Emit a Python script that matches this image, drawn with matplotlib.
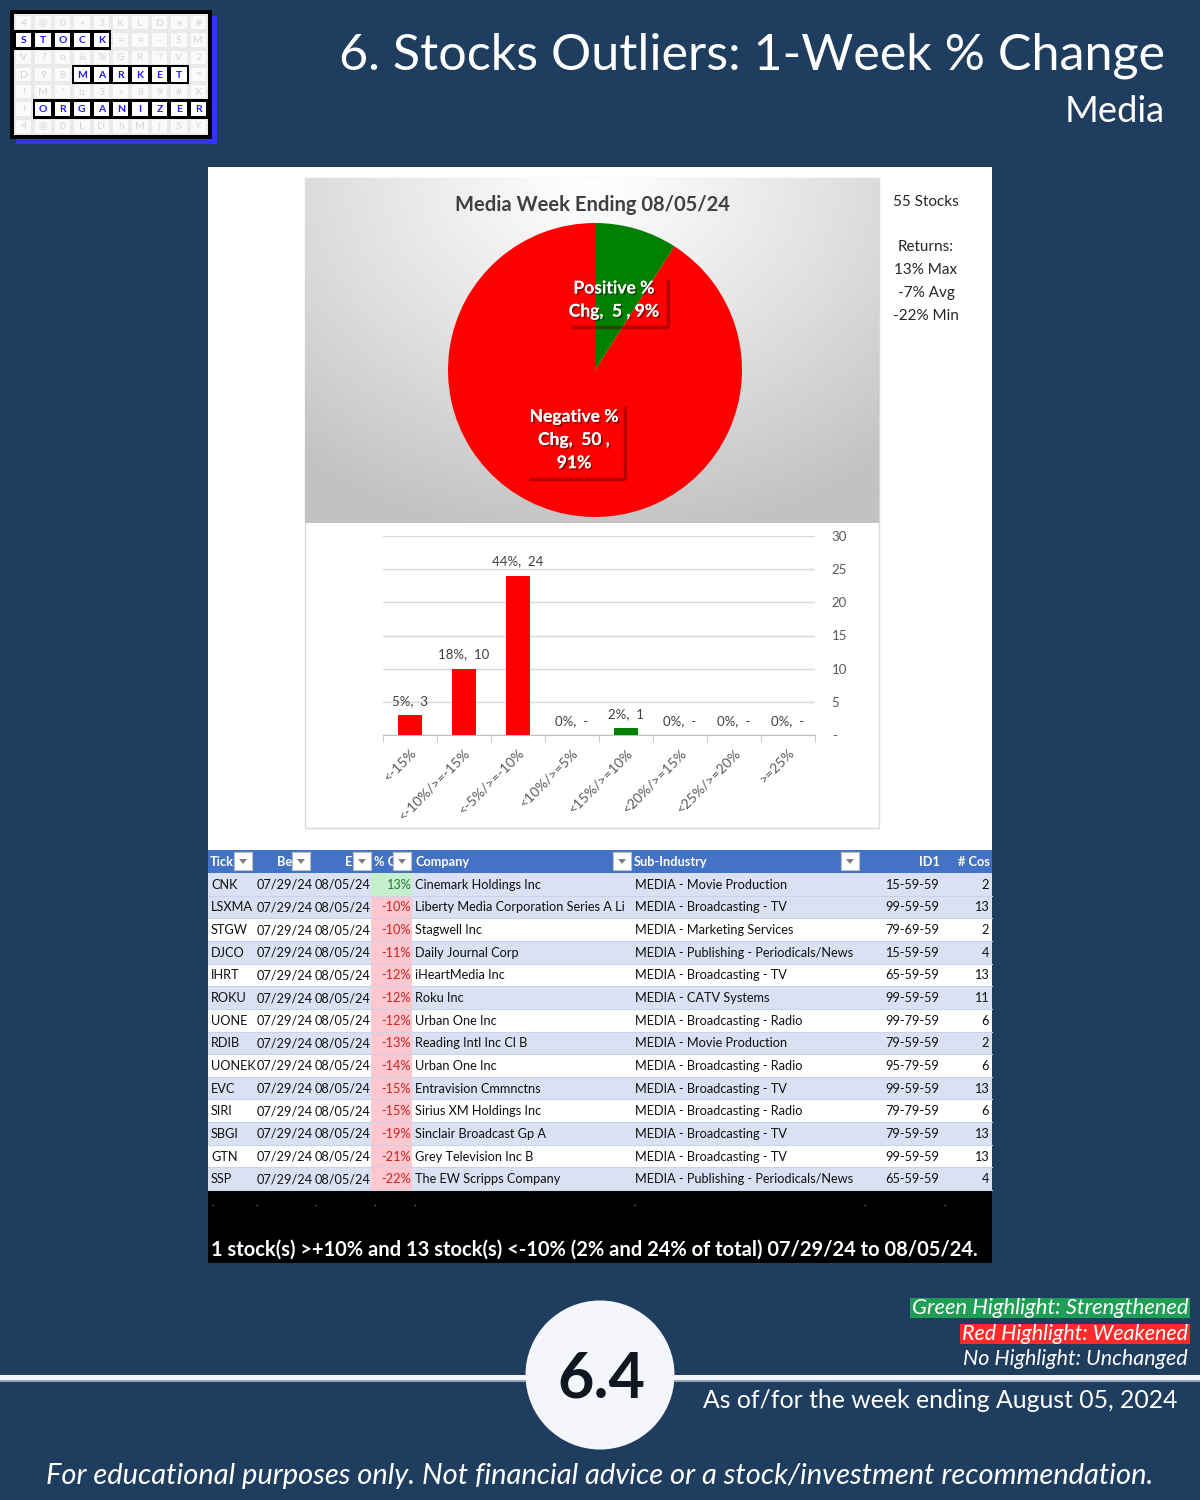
import numpy as np
import matplotlib
matplotlib.use('Agg')
import matplotlib.pyplot as plt
from matplotlib.patches import Rectangle, Circle, Polygon
import matplotlib.patheffects as pe

plt.rcParams['font.family'] = ['Lato', 'DejaVu Sans']

# ---------------- data ----------------
title_main = "6. Stocks Outliers: 1-Week % Change"
title_sub = "Media"
pie_title = "Media Week Ending 08/05/24"
pie_names = ["Positive %", "Negative %"]
pie_counts = [5, 50]
pie_pcts = [9, 91]
pie_colors = ['#008000', '#ff0000']
n_stocks = 55
ret_max, ret_avg, ret_min = 13, -7, -22

bins = ["<-15%", "<-10%/>=-15%", "<-5%/>=-10%", "<10%/>=5%",
        "<15%/>=10%", "<20%/>=15%", "<25%/>=20%", ">=25%"]
bin_counts = [3, 10, 24, 0, 1, 0, 0, 0]
bin_pcts = [5, 18, 44, 0, 2, 0, 0, 0]
bin_colors = ['#ff0000'] * 4 + ['#008000'] * 4
y_ticks = [0, 5, 10, 15, 20, 25, 30]
y_tick_labels = ['-', '5', '10', '15', '20', '25', '30']

header = ["Tick", "Be", "E", "% C", "Company", "Sub-Industry", "ID1", "# Cos"]
tickers = ["CNK", "LSXMA", "STGW", "DJCO", "IHRT", "ROKU", "UONE", "RDIB",
           "UONEK", "EVC", "SIRI", "SBGI", "GTN", "SSP"]
begin_dates = ["07/29/24"] * 14
end_dates = ["08/05/24"] * 14
pct_chg = [13, -10, -10, -11, -12, -12, -12, -13, -14, -15, -15, -19, -21, -22]
companies = ["Cinemark Holdings Inc", "Liberty Media Corporation Series A Li",
             "Stagwell Inc", "Daily Journal Corp", "iHeartMedia Inc", "Roku Inc",
             "Urban One Inc", "Reading Intl Inc Cl B", "Urban One Inc",
             "Entravision Cmmnctns", "Sirius XM Holdings Inc",
             "Sinclair Broadcast Gp A", "Grey Television Inc B",
             "The EW Scripps Company"]
sub_industries = ["MEDIA - Movie Production", "MEDIA - Broadcasting - TV",
                  "MEDIA - Marketing Services", "MEDIA - Publishing - Periodicals/News",
                  "MEDIA - Broadcasting - TV", "MEDIA - CATV Systems",
                  "MEDIA - Broadcasting - Radio", "MEDIA - Movie Production",
                  "MEDIA - Broadcasting - Radio", "MEDIA - Broadcasting - TV",
                  "MEDIA - Broadcasting - Radio", "MEDIA - Broadcasting - TV",
                  "MEDIA - Broadcasting - TV", "MEDIA - Publishing - Periodicals/News"]
id1 = ["15-59-59", "99-59-59", "79-69-59", "15-59-59", "65-59-59", "99-59-59",
       "99-79-59", "79-59-59", "95-79-59", "99-59-59", "79-79-59", "79-59-59",
       "99-59-59", "65-59-59"]
n_cos = [2, 13, 2, 4, 13, 11, 6, 2, 6, 13, 6, 13, 13, 4]
row_shaded = [1, 1, 0, 1, 0, 1, 0, 1, 0, 1, 0, 1, 0, 1]

summary = "1 stock(s) >+10% and 13 stock(s) <-10% (2% and 24% of total) 07/29/24 to 08/05/24."
legend_items = ["Green Highlight: Strengthened", "Red Highlight: Weakened", "No Highlight: Unchanged"]
section_no = "6.4"
asof = "As of/for the week ending August 05, 2024"
footer = "For educational purposes only. Not financial advice or a stock/investment recommendation."

logo_rows = ["4@0<3KLDe#", "STOCK==-SM", "V7o&%GR?V2", "D98MARKET=",
             "!M*q3>89#X", "!ORGANIZER", "4@0LDhM)5Y"]
logo_words = {1: (0, "STOCK"), 3: (3, "MARKET"), 5: (1, "ORGANIZER")}

# ---------------- figure ----------------
BG = '#1f3e5f'
W, H = 1200, 1500
fig = plt.figure(figsize=(12, 15), dpi=100, facecolor=BG)
bg = fig.add_axes([0, 0, 1, 1])
bg.set_xlim(0, W)
bg.set_ylim(H, 0)
bg.axis('off')
bg.set_facecolor(BG)
renderer = fig.canvas.get_renderer()


def fit(t, width):
    bb = t.get_window_extent(renderer)
    t.set_fontsize(t.get_fontsize() * width / bb.width)
    return t


def size_for(s, width, **kw):
    tmp = bg.text(0, 0, s, fontsize=10, **kw)
    w = tmp.get_window_extent(renderer).width
    tmp.remove()
    return 10 * width / w


def rect(x0, y0, x1, y1, ax=None, **kw):
    (ax or bg).add_patch(Rectangle((x0, y0), x1 - x0, y1 - y0, **kw))


# ---------------- logo ----------------
rect(16, 16, 217, 144, facecolor='#3333ff', edgecolor='none', zorder=1)
rect(10, 10, 212, 139, facecolor='black', edgecolor='none', zorder=2)
rect(14, 14, 208, 135, facecolor='white', edgecolor='none', zorder=3)
cw, ch = (208 - 14) / 10, (135 - 14) / 7
for r, rowtxt in enumerate(logo_rows):
    for c, letter in enumerate(rowtxt):
        x0, y0 = 14 + c * cw, 14 + r * ch
        rect(x0 + 1, y0 + 1, x0 + cw - 1, y0 + ch - 1, facecolor='#fafafa',
             edgecolor='#e6e6e6', lw=1.2, zorder=4)
        bg.text(x0 + cw / 2, y0 + ch / 2 + 0.5, letter, color='#d4d4d4', fontsize=7.5,
                ha='center', va='center', zorder=5)
for r, (c0, word) in logo_words.items():
    y0 = 14 + r * ch
    rect(14 + c0 * cw, y0 - 1, 14 + (c0 + len(word)) * cw, y0 + ch + 1,
         facecolor='black', edgecolor='none', zorder=6)
    for k, letter in enumerate(word):
        x0 = 14 + (c0 + k) * cw
        rect(x0 + 2, y0 + 1.5, x0 + cw - 2, y0 + ch - 1.5, facecolor='white',
             edgecolor='none', zorder=7)
        bg.text(x0 + cw / 2, y0 + ch / 2 + 0.5, letter, color='#1a1aff', fontsize=7.5,
                fontweight='bold', ha='center', va='center', zorder=8)

# ---------------- titles ----------------
t = bg.text(1165, 56, title_main, color='white', fontsize=40, ha='right', va='center')
fit(t, 827)
t = bg.text(1165, 111, title_sub, color='white', fontsize=28, ha='right', va='center')
fit(t, 100)

# ---------------- white panel ----------------
rect(208, 167, 992, 1190, facecolor='white', edgecolor='none', zorder=1)
rect(305, 178, 879, 828, facecolor='white', edgecolor='#d9d9d9', lw=1, zorder=2)

# gradient for pie area
gx = np.linspace(0, 1, 300)
gy = np.linspace(0, 1, 200)
GX, GY = np.meshgrid(gx, gy)
dist = np.sqrt(((GX - 0.5) * 1.25) ** 2 + (GY * 0.95) ** 2)
grad = 1.0 - 0.24 * np.clip(dist / 1.0, 0, 1) ** 1.1
bg.imshow(grad, extent=(305, 879, 523, 178), cmap='gray', vmin=0, vmax=1,
          aspect='auto', zorder=3, interpolation='bilinear')

t = bg.text(592, 205, pie_title, color='#404040', fontsize=15, fontweight='bold',
            ha='center', va='center', zorder=10)
fit(t, 276)

# side stats
stats = [(202, f"{n_stocks} Stocks"), (247, "Returns:"), (270, f"{ret_max}% Max"),
         (293, f"{ret_avg}% Avg"), (316, f"{ret_min}% Min")]
for yy, s in stats:
    bg.text(926, yy, s, color='#262626', fontsize=11, ha='center', va='center', zorder=10)

# ---------------- pie ----------------
ax_p = fig.add_axes([448 / W, 1 - 517 / H, 294 / W, 294 / H])
ax_p.pie(pie_counts, colors=pie_colors, startangle=90, counterclock=False, radius=1,
         wedgeprops=dict(linewidth=0))
ax_p.set_xlim(-1, 1)
ax_p.set_ylim(-1, 1)
ax_p.axis('off')
ax_p.patch.set_alpha(0)

# overlay for pie labels
ov = fig.add_axes([0, 0, 1, 1])
ov.set_xlim(0, W)
ov.set_ylim(H, 0)
ov.axis('off')
ov.patch.set_alpha(0)

shadow = [pe.withSimplePatchShadow(offset=(1.2, -1.2), shadow_rgbFace='black', alpha=0.45),
          pe.Normal()]
fs = size_for(pie_names[0], 81, fontweight='bold')
lab_pos = f"{pie_names[0]}\nChg,  {pie_counts[0]} , {pie_pcts[0]}%"
lab_neg = f"{pie_names[1]}\nChg,  {pie_counts[1]} ,\n{pie_pcts[1]}%"
ov.text(614, 300, lab_pos, color='white', fontsize=fs, fontweight='bold',
        ha='center', va='center', linespacing=1.55, zorder=12, path_effects=shadow)
ov.text(574, 440, lab_neg, color='white', fontsize=fs, fontweight='bold',
        ha='center', va='center', linespacing=1.55, zorder=12, path_effects=shadow)
for (x0, y0, x1, y1) in [(568, 276, 668, 327), (526, 403, 625, 479)]:
    ov.plot([x1, x1], [y0 + 3, y1], color='#600000', alpha=0.45, lw=2.5, zorder=11,
            solid_capstyle='butt')
    ov.plot([x0 + 3, x1], [y1, y1], color='#600000', alpha=0.45, lw=2.5, zorder=11,
            solid_capstyle='butt')

# ---------------- bar chart ----------------
ax_b = fig.add_axes([383 / W, 1 - 735 / H, 432 / W, 199 / H])
x = np.arange(len(bins))
ax_b.bar(x, bin_counts, width=0.46, color=bin_colors, zorder=3)
ax_b.set_xlim(-0.5, len(bins) - 0.5)
ax_b.set_ylim(0, 30)
ax_b.patch.set_alpha(0)
for s in ['top', 'left', 'right']:
    ax_b.spines[s].set_visible(False)
ax_b.spines['bottom'].set_color('#bfbfbf')
ax_b.yaxis.tick_right()
ax_b.set_yticks(y_ticks)
ax_b.set_yticklabels(y_tick_labels)
ax_b.tick_params(axis='y', length=0, pad=12, labelsize=9.5, labelcolor='#595959')
ax_b.yaxis.grid(True, color='#d9d9d9', lw=1)
ax_b.set_axisbelow(True)
ax_b.set_xticks(x)
ax_b.set_xticklabels(bins)
ax_b.tick_params(axis='x', which='major', length=0, pad=8, labelsize=10, labelcolor='#595959')
plt.setp(ax_b.get_xticklabels(), rotation=45, ha='right', va='top', rotation_mode='anchor')
ax_b.set_xticks(np.arange(-0.5, len(bins)), minor=True)
ax_b.tick_params(axis='x', which='minor', length=5, color='#bfbfbf', direction='out')
for i, (c, p) in enumerate(zip(bin_counts, bin_pcts)):
    lab = f"{p}%,  {c if c else '-'}"
    ax_b.annotate(lab, (i, c), xytext=(0, 6), textcoords='offset points', ha='center',
                  va='bottom', fontsize=9.5, color='#404040', zorder=5)

# ---------------- table ----------------
rect(208, 850, 992, 873, facecolor='#4472c4', edgecolor='none', zorder=4)
row_h = (1190 - 873) / 14
tfs = min(size_for(companies[1], 218), size_for(begin_dates[0], 56))

hdr_x = [(210, 'left'), (277, 'left'), (345, 'left'), (374, 'left'), (415, 'left'),
         (634, 'left'), (940, 'right'), (990, 'right')]
for (hx, ha), h in zip(hdr_x, header):
    bg.text(hx, 862, h, color='white', fontsize=tfs, fontweight='bold', ha=ha,
            va='center', zorder=5)
for bx in [234, 292, 353, 393, 613, 841]:
    rect(bx, 852, bx + 18, 870, facecolor='white', edgecolor='#bfbfbf', lw=0.8, zorder=6)
    bg.add_patch(Polygon([(bx + 5, 859), (bx + 13, 859), (bx + 9, 864)], closed=True,
                         facecolor='#7f7f7f', edgecolor='none', zorder=7))

for i in range(len(tickers)):
    y0 = 873 + i * row_h
    yc = y0 + row_h / 2 + 0.5
    rect(208, y0, 992, y0 + row_h, facecolor='#d9e1f2' if row_shaded[i] else 'white',
         edgecolor='none', zorder=4)
    pos = pct_chg[i] > 0
    rect(371, y0, 412, y0 + row_h, facecolor='#c6efce' if pos else '#ffc7ce',
         edgecolor='none', zorder=4.5)
    bg.plot([208, 992], [y0 + row_h, y0 + row_h], color='#c9d3ea', lw=0.8, zorder=4.6)
    kw = dict(fontsize=tfs, va='center', zorder=5, color='#111111')
    bg.text(211, yc, tickers[i], ha='left', **kw)
    bg.text(257, yc, begin_dates[i], ha='left', **kw)
    bg.text(315, yc, end_dates[i], ha='left', **kw)
    kw2 = dict(kw)
    kw2['color'] = '#1e7b34' if pos else '#cc2222'
    bg.text(411, yc, f"{pct_chg[i]}%", ha='right', **kw2)
    bg.text(415, yc, companies[i], ha='left', **kw)
    bg.text(635, yc, sub_industries[i], ha='left', **kw)
    bg.text(939, yc, id1[i], ha='right', **kw)
    bg.text(989, yc, str(n_cos[i]), ha='right', **kw)

# black band
rect(208, 1190, 992, 1263, facecolor='black', edgecolor='none', zorder=4)
for dx in [213, 257, 316, 375, 415, 635, 865, 945]:
    bg.text(dx, 1203, '.', color='white', fontsize=7, ha='center', va='center', zorder=5)
t = bg.text(211, 1250, summary, color='white', fontsize=14, fontweight='bold', ha='left',
            va='center', zorder=5)
fit(t, 774)

# ---------------- legend ----------------
leg_y = [1308, 1334, 1359]
leg_bg = ['#1f9e55', '#ff2b2b', None]
leg_w = [280, 230, 228]
for s, yy, col, lw_ in zip(legend_items, leg_y, leg_bg, leg_w):
    tt = bg.text(1188, yy, s, color='white', fontsize=13, style='italic', ha='right',
                 va='center', zorder=5)
    fit(tt, lw_ - 4)
    if col:
        rect(1190 - lw_, yy - 10, 1190, yy + 10, facecolor=col, edgecolor='none', zorder=4)

# ---------------- divider & badge ----------------
rect(0, 1375, 1200, 1380, facecolor='#f4f6fb', edgecolor='none', zorder=3)
rect(0, 1380, 1200, 1382, facecolor='#8fa6c0', edgecolor='none', zorder=3)
bg.add_patch(Circle((600, 1375), 74.5, facecolor='#f4f6fb', edgecolor='none', zorder=6))
t = bg.text(601, 1380, section_no, color='#0f1722', fontsize=44, fontweight='bold',
            ha='center', va='center', zorder=7)
fit(t, 88)
t = bg.text(1177, 1400, asof, color='white', fontsize=17, ha='right', va='center', zorder=5)
fit(t, 472)
t = bg.text(600, 1476, footer, color='white', fontsize=18, style='italic', ha='center',
            va='center', zorder=5)
fit(t, 1110)

fig.savefig('out.png', dpi=100, facecolor=BG)
